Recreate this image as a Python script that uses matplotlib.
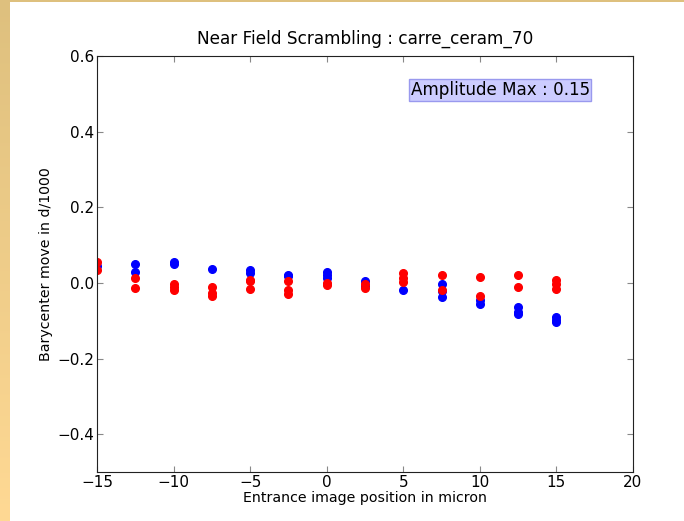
import numpy as np
import matplotlib
matplotlib.use('Agg')
import matplotlib.pyplot as plt
from matplotlib.colors import LinearSegmentedColormap

# barycenter displacement for each entrance position (d/1000)
x_blue = [-15, -12.5, -12.5, -10, -10, -7.5, -5, -5, -2.5, -2.5,
          0, 0, 0, 2.5, 2.5, 5, 7.5, 7.5, 7.5, 10, 10,
          12.5, 12.5, 12.5, 15, 15, 15]
y_blue = [0.045, 0.050, 0.028, 0.055, 0.050, 0.036, 0.034, 0.027, 0.022, 0.017,
          0.030, 0.021, 0.012, 0.005, -0.008, -0.020, -0.004, -0.021, -0.037, -0.046, -0.055,
          -0.065, -0.078, -0.083, -0.090, -0.097, -0.104]

x_red = [-15, -15, -12.5, -12.5, -10, -10, -10, -7.5, -7.5, -7.5,
         -5, -5, -5, -2.5, -2.5, -2.5, 0, 0, 2.5, 2.5,
         5, 5, 5, 7.5, 7.5, 10, 10, 12.5, 12.5, 15, 15, 15]
y_red = [0.056, 0.034, 0.013, -0.013, -0.002, -0.010, -0.019, -0.011, -0.026, -0.034,
         0.009, 0.004, -0.017, 0.004, -0.019, -0.030, -0.001, -0.006, -0.004, -0.013,
         0.026, 0.014, 0.003, 0.022, -0.018, 0.015, -0.034, 0.020, -0.012, 0.009, -0.002, -0.015]

amplitude = 0.15

fig = plt.figure(figsize=(6.84, 5.21), dpi=100)

# slide frame: gold strip on the left and along the top
grad = LinearSegmentedColormap.from_list('frame', ['#dec07e', '#ffd994'])
strip = fig.add_axes([0, 0, 10 / 684, 1])
strip.imshow(np.linspace(0, 1, 256).reshape(-1, 1), aspect='auto', cmap=grad)
strip.axis('off')
top = fig.add_axes([0, 1 - 2 / 521, 1, 2 / 521])
top.axis('off')
top.add_patch(plt.Rectangle((0, 0), 1, 1, color='#dec07e', transform=top.transAxes))

ax = fig.add_axes([97 / 684, 49 / 521, 536 / 684, 416 / 521])
ax.plot(x_blue, y_blue, 'o', color='blue', mec='blue', ms=5.5)
ax.plot(x_red, y_red, 'o', color='red', mec='red', ms=5.5)

ax.set_xlim(-15, 20)
ax.set_ylim(-0.5, 0.6)
ax.set_xticks([-15, -10, -5, 0, 5, 10, 15, 20])
ax.set_yticks([-0.4, -0.2, 0.0, 0.2, 0.4, 0.6])
ax.tick_params(direction='in', top=True, right=True, length=4, color='#888888',
               labelsize=11, pad=2)
for s in ax.spines.values():
    s.set_color('#222222')

ax.set_title('Near Field Scrambling : carre_ceram_70', fontsize=12.2, pad=9)
ax.set_xlabel('Entrance image position in micron', fontsize=10.2, labelpad=1)
ax.set_ylabel('Barycenter move in d/1000', fontsize=10.2)
ax.yaxis.set_label_coords(-0.083, 0.5)

ax.text(0.585, 0.918, 'Amplitude Max : %.2f' % amplitude, transform=ax.transAxes,
        fontsize=12.1, va='center',
        bbox=dict(boxstyle='square,pad=0.1', facecolor='#ccccff', edgecolor='#9999ee'))

fig.savefig('out.png', dpi=100)
